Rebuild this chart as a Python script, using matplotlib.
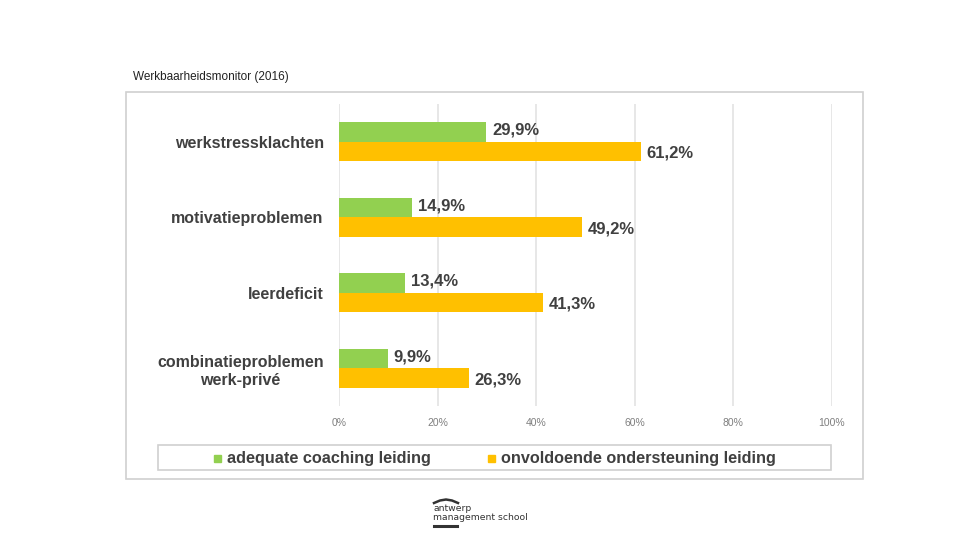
import matplotlib
matplotlib.use("Agg")
import matplotlib.pyplot as plt
from matplotlib.patches import Rectangle
import numpy as np

categories = ["werkstressklachten", "motivatieproblemen", "leerdeficit",
              "combinatieproblemen\nwerk-privé"]
adequate = [29.9, 14.9, 13.4, 9.9]
onvoldoende = [61.2, 49.2, 41.3, 26.3]
series_names = ["adequate coaching leiding", "onvoldoende ondersteuning leiding"]
xticks = [0, 20, 40, 60, 80, 100]

GREEN = "#92D050"
ORANGE = "#FFC000"
TXT = "#404040"

W, H = 960, 540
fig = plt.figure(figsize=(9.6, 5.4), dpi=100)
fig.patch.set_facecolor("white")

def fx(px):
    return px / W

def fy(py):
    return 1 - py / H

# title
fig.text(fx(133), fy(77), "Werkbaarheidsmonitor (2016)", fontsize=8.5, color="#222222",
         ha="left", va="center", family="Liberation Sans")

# outer border of chart image
fig.patches.append(Rectangle((fx(126), fy(479)), fx(863) - fx(126), fy(92) - fy(479),
                             transform=fig.transFigure, fill=False,
                             edgecolor="#d0d0d0", linewidth=1.2))

# main axes
ax = fig.add_axes([fx(339), fy(406), fx(832) - fx(339), fy(104) - fy(406)])
n = len(categories)
y = np.arange(n)
h = 0.26
ax.barh(y - h / 2, adequate, height=h, color=GREEN, zorder=3)
ax.barh(y + h / 2, onvoldoende, height=h, color=ORANGE, zorder=3)
ax.set_ylim(n - 0.5, -0.5)
ax.set_xlim(0, 100)
ax.set_xticks(xticks)
ax.set_xticklabels([f"{t}%" for t in xticks], fontsize=7.5, color="#7f7f7f",
                   family="Liberation Sans")
ax.tick_params(axis="x", length=0, pad=9)
ax.set_yticks(y)
ax.set_yticklabels(categories, fontsize=11.5, fontweight="bold", color=TXT,
                   family="Liberation Sans", linespacing=1.3, multialignment="center")
ax.tick_params(axis="y", length=0, pad=11)
ax.grid(axis="x", color="#e3e3e3", linewidth=1.2, zorder=0)
for s in ax.spines.values():
    s.set_visible(False)

def fmt(v):
    return f"{v:.1f}".replace(".", ",") + "%"

for i in range(n):
    ax.text(adequate[i] + 1.2, y[i] - h / 2 - 0.02, fmt(adequate[i]), va="center", ha="left",
            fontsize=12, fontweight="bold", color=TXT, family="Liberation Sans")
    ax.text(onvoldoende[i] + 1.2, y[i] + h / 2 + 0.02, fmt(onvoldoende[i]), va="center",
            ha="left", fontsize=12, fontweight="bold", color=TXT, family="Liberation Sans")

# legend box
fig.patches.append(Rectangle((fx(158), fy(470)), fx(831) - fx(158), fy(445) - fy(470),
                             transform=fig.transFigure, fill=False,
                             edgecolor="#d0d0d0", linewidth=1.2))
legend_pos = [(214, GREEN), (488, ORANGE)]
for (px, col), name in zip(legend_pos, series_names):
    fig.patches.append(Rectangle((fx(px), fy(461.5)), fx(7), 7 / H,
                                 transform=fig.transFigure, color=col))
    fig.text(fx(px + 13), fy(458), name, fontsize=11.7, fontweight="bold", color=TXT,
             ha="left", va="center", family="Liberation Sans")

# logo
fig.text(fx(433), fy(513), "antwerp\nmanagement school", fontsize=6.7, color="#333333",
         ha="left", va="center", linespacing=0.95, family="DejaVu Sans")
fig.lines.append(plt.Line2D([fx(434), fx(440), fx(446), fx(452), fx(458)],
                            [fy(503), fy(500.5), fy(499.5), fy(500.5), fy(503)],
                            transform=fig.transFigure, color="#333333", linewidth=1.8))
fig.lines.append(plt.Line2D([fx(434), fx(457)], [fy(526), fy(526)],
                            transform=fig.transFigure, color="#333333", linewidth=2.2))

fig.savefig("out.png", dpi=100, facecolor="white")
